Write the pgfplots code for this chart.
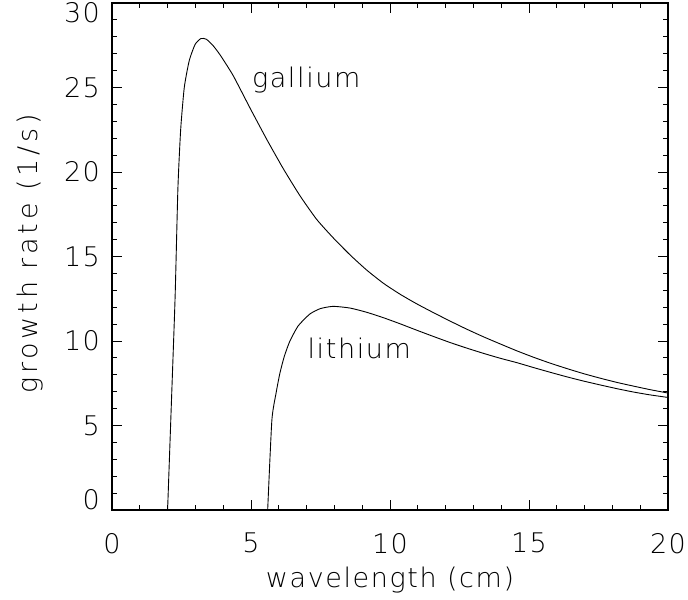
\documentclass[border=0pt]{standalone}
\usepackage{fontspec}
\setmainfont{DejaVu Sans ExtraLight}
\usepackage{pgfplots}
\pgfplotsset{compat=1.18}
\begin{document}
\fontsize{27bp}{32bp}\selectfont
\begin{tikzpicture}
\useasboundingbox (-112bp,-90bp) rectangle (576bp,510bp);
\begin{axis}[
  scale only axis,
  width=556bp, height=507bp,
  xmin=0, xmax=20, ymin=0, ymax=30,
  xtick={0,5,10,15,20}, ytick={0,5,10,15,20,25,30},
  minor x tick num=4, minor y tick num=4,
  tick align=inside,
  major tick length=10bp, minor tick length=5bp,
  axis line style={line width=1.1bp},
  every tick/.style={black, line width=0.9bp},
  /pgf/number format/assume math mode=true,
  tick label style={font=\fontsize{27bp}{32bp}\selectfont\addfontfeatures{LetterSpace=5}},
  xticklabel style={yshift=-14bp},
  yticklabel style={xshift=-3bp, yshift={10*(\ticknum==0)-10*(\ticknum==6)}},
  xlabel={wavelength (cm)},
  ylabel={growth rate (1/s)},
  xlabel style={font=\fontsize{27bp}{32bp}\selectfont\addfontfeatures{LetterSpace=6},
    at={(axis description cs:0.5,0)}, anchor=center, yshift=-70bp},
  ylabel style={font=\fontsize{27bp}{32bp}\selectfont\addfontfeatures{LetterSpace=14},
    at={(axis description cs:0,0.505)}, anchor=center, yshift=82bp},
  clip=false,
]
\addplot[black, line width=0.9bp, smooth, tension=0.35] coordinates {
(2.0,0) (2.14,6.5) (2.27,12.6) (2.37,19.0) (2.47,22.5) (2.6,25.0) (2.78,26.6)
(2.99,27.55) (3.2,27.9) (3.4,27.85) (3.65,27.45) (3.9,26.9) (4.36,25.7)
(4.96,23.8) (5.56,21.95) (6.16,20.2) (6.76,18.6) (7.36,17.2) (7.96,16.1)
(8.56,15.1) (9.16,14.2) (9.76,13.42) (10.36,12.77) (10.96,12.2) (11.56,11.68)
(12.16,11.18) (12.76,10.7) (13.36,10.25) (13.96,9.83) (14.56,9.42) (15.16,9.04)
(15.76,8.69) (16.36,8.37) (16.96,8.07) (17.56,7.8) (18.16,7.55) (18.76,7.33)
(19.36,7.12) (20,6.92)
};
\addplot[black, line width=0.9bp, smooth, tension=0.35] coordinates {
(5.6,0) (5.75,5.3) (5.9,6.9) (6.04,8.1) (6.2,9.1) (6.4,10.0) (6.7,10.9)
(7.12,11.6) (7.5,11.92) (7.96,12.05) (8.56,11.95) (9.16,11.7) (9.76,11.38)
(10.36,11.02) (10.96,10.64) (11.56,10.27) (12.16,9.91) (12.76,9.58)
(13.36,9.27) (13.96,8.98) (14.56,8.72) (15.16,8.43) (15.76,8.15) (16.36,7.88)
(16.96,7.63) (17.56,7.4) (18.16,7.18) (18.76,6.98) (19.36,6.81) (20,6.66)
};
\node[anchor=base west, inner sep=0pt, font=\addfontfeatures{LetterSpace=6}] at (axis cs:5.03,25.0) {gallium};
\node[anchor=base west, inner sep=0pt, font=\addfontfeatures{LetterSpace=6}] at (axis cs:7.03,8.98) {lithium};
\end{axis}
\end{tikzpicture}
\end{document}
